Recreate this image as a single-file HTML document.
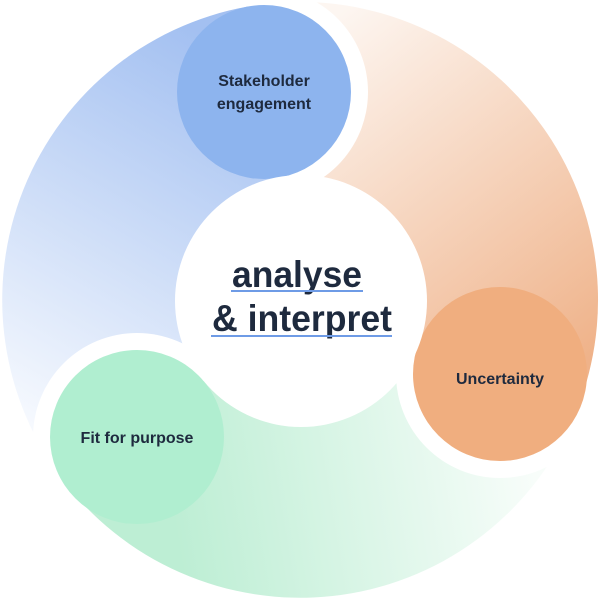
<!DOCTYPE html>
<html><head><meta charset="utf-8"><style>
html,body{margin:0;padding:0;background:#fff;width:600px;height:600px;overflow:hidden}
text{font-family:"Liberation Sans",sans-serif;font-weight:bold;fill:#1e2a3e}
</style></head><body>
<svg width="600" height="600" viewBox="0 0 600 600" xmlns="http://www.w3.org/2000/svg">
<defs>
<linearGradient id="gb" gradientUnits="userSpaceOnUse" x1="250" y1="60" x2="40" y2="430">
<stop offset="0" stop-color="#a3c0f1"/><stop offset="1" stop-color="#f6f9fe"/></linearGradient>
<linearGradient id="go" gradientUnits="userSpaceOnUse" x1="330" y1="20" x2="590" y2="360">
<stop offset="0" stop-color="#fdf6f1"/><stop offset="1" stop-color="#efb289"/></linearGradient>
<linearGradient id="gg" gradientUnits="userSpaceOnUse" x1="540" y1="500" x2="180" y2="560">
<stop offset="0" stop-color="#f8fdfa"/><stop offset="1" stop-color="#bdeed4"/></linearGradient>
<mask id="mo"><rect width="600" height="600" fill="#fff"/><circle cx="264" cy="92" r="104" fill="#000"/></mask>
<mask id="mg"><rect width="600" height="600" fill="#fff"/><circle cx="500" cy="374" r="104" fill="#000"/></mask>
<mask id="mb"><rect width="600" height="600" fill="#fff"/><circle cx="137" cy="437" r="104" fill="#000"/></mask>
</defs>
<path d="M300 300 L72 491.5 A298 298 0 0 1 248 6.5 Z" fill="url(#gb)" mask="url(#mb)"/>
<path d="M300 300 L248 6.5 A298 298 0 0 1 580 402 Z" fill="url(#go)" mask="url(#mo)"/>
<path d="M300 300 L580 402 A298 298 0 0 1 72 491.5 Z" fill="url(#gg)" mask="url(#mg)"/>
<circle cx="264" cy="92" r="87" fill="#8db4ee"/>
<circle cx="500" cy="374" r="87" fill="#f0ae7f"/>
<circle cx="137" cy="437" r="87" fill="#b0eed0"/>
<circle cx="301" cy="301" r="126" fill="#fff"/>
<text x="264" y="86" font-size="16" text-anchor="middle">Stakeholder</text>
<text x="264" y="109" font-size="16" text-anchor="middle">engagement</text>
<text x="500" y="384" font-size="16" text-anchor="middle">Uncertainty</text>
<text x="137" y="443" font-size="16" text-anchor="middle">Fit for purpose</text>
<text x="297" y="287" font-size="37" text-anchor="middle" textLength="130" lengthAdjust="spacingAndGlyphs">analyse</text>
<rect x="231" y="290" width="132" height="2" fill="#6e9be6"/>
<text x="302" y="331" font-size="37" text-anchor="middle" textLength="180" lengthAdjust="spacingAndGlyphs">&amp; interpret</text>
<rect x="211" y="335" width="181" height="2" fill="#6e9be6"/>
</svg>
</body></html>
